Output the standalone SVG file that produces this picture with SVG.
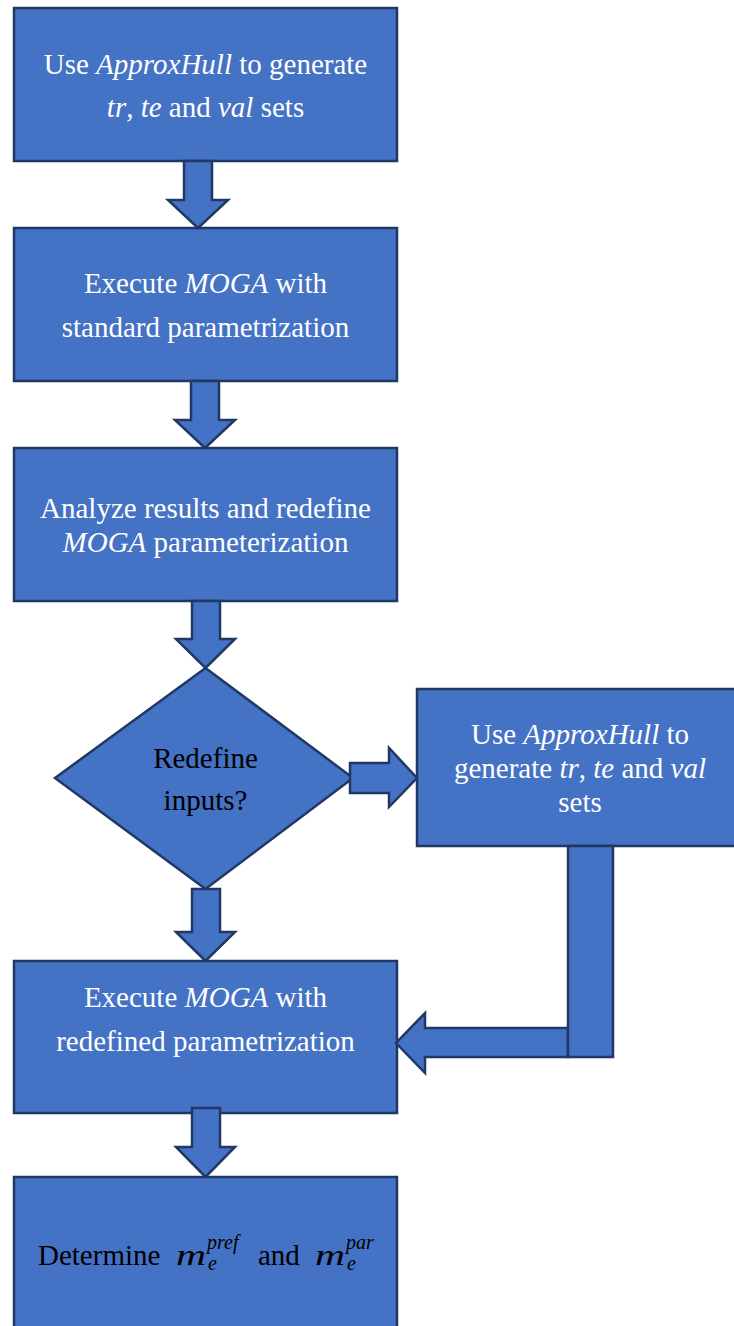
<svg xmlns="http://www.w3.org/2000/svg" width="734" height="1326" viewBox="0 0 734 1326">
<style>
.shape{fill:#4472C4;stroke:#1F3864;stroke-width:2.5;stroke-linejoin:miter}
.t{font-family:"Liberation Serif","Times New Roman",serif;font-size:29px;text-anchor:middle}
.m{font-family:"Liberation Serif","Times New Roman",serif;font-size:29px;fill:#000000}
.s{font-family:"Liberation Serif","Times New Roman",serif;font-size:20px;font-style:italic;fill:#000000}
.w{fill:#ffffff}
.k{fill:#000000}
.i{font-style:italic}
</style>
<rect width="734" height="1326" fill="#ffffff"/>
<g id="node1">
<rect class="shape" x="14" y="8" width="383" height="153"/>
<text class="t w" x="205.5" y="74">Use <tspan class="i">ApproxHull</tspan> to generate</text>
<text class="t w" x="205.5" y="117"><tspan class="i">tr</tspan>, <tspan class="i">te</tspan> and <tspan class="i">val</tspan> sets</text>
</g>
<g id="node2">
<rect class="shape" x="14" y="228" width="383" height="153"/>
<text class="t w" x="205.5" y="293">Execute <tspan class="i">MOGA</tspan> with</text>
<text class="t w" x="205.5" y="337">standard parametrization</text>
</g>
<g id="node3">
<rect class="shape" x="14" y="448" width="383" height="153"/>
<text class="t w" x="205.5" y="518">Analyze results and redefine</text>
<text class="t w" x="205.5" y="552"><tspan class="i">MOGA</tspan> parameterization</text>
</g>
<g id="node4">
<polygon class="shape" points="205.5,668 353,778 205.5,889 55,778"/>
<text class="t k" x="205.5" y="768">Redefine</text>
<text class="t k" x="205.5" y="810">inputs?</text>
</g>
<g id="node5">
<rect class="shape" x="417" y="689" width="330" height="157"/>
<text class="t w" x="580" y="744">Use <tspan class="i">ApproxHull</tspan> to</text>
<text class="t w" x="580" y="778">generate <tspan class="i">tr</tspan>, <tspan class="i">te</tspan> and <tspan class="i">val</tspan></text>
<text class="t w" x="580" y="812">sets</text>
</g>
<g id="node6">
<rect class="shape" x="14" y="961" width="383" height="152"/>
<text class="t w" x="205.5" y="1007">Execute <tspan class="i">MOGA</tspan> with</text>
<text class="t w" x="205.5" y="1051">redefined parametrization</text>
</g>
<g id="node7">
<rect class="shape" x="14" y="1177" width="383" height="170"/>
<text class="m" x="38" y="1265">Determine</text>
<text class="m" font-style="italic" x="176" y="1265" textLength="30" lengthAdjust="spacingAndGlyphs">m</text>
<text class="s" x="207" y="1249">pref</text>
<text class="s" x="208" y="1270">e</text>
<text class="m" x="258" y="1265">and</text>
<text class="m" font-style="italic" x="315" y="1265" textLength="30" lengthAdjust="spacingAndGlyphs">m</text>
<text class="s" x="346" y="1249">par</text>
<text class="s" x="347" y="1270">e</text>
</g>
<g id="connectors">
<polygon class="shape" points="184,161 212,161 212,200 228,200 198,228 168,200 184,200"/>
<polygon class="shape" points="191,381 219,381 219,420 235,420 205,448 175,420 191,420"/>
<polygon class="shape" points="192,601 220,601 220,639 235,639 205.5,668 176,639 192,639"/>
<polygon class="shape" points="192,889 220,889 220,932 235,932 205.5,961 176,932 192,932"/>
<polygon class="shape" points="192,1108 220,1108 220,1147 235,1147 205.5,1177 176,1147 192,1147"/>
<polygon class="shape" points="350,763 389,763 389,748 417,778 389,807 389,793 350,793"/>
<polygon class="shape" points="568,1028 425,1028 425,1013 396,1043 425,1073 425,1057 568,1057"/>
<rect class="shape" x="568" y="846" width="45" height="211"/>
</g>
</svg>
